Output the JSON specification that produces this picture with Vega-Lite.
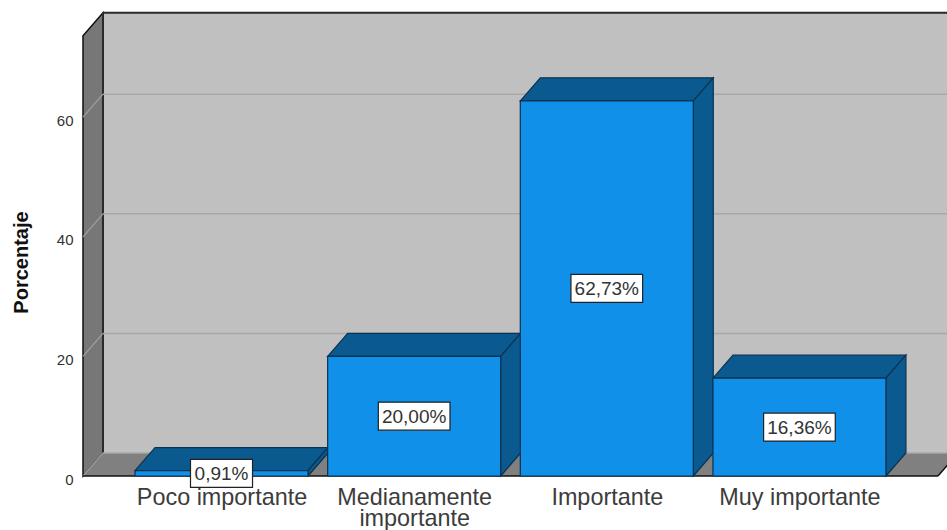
{
"$schema":"https://vega.github.io/schema/vega-lite/v6.json",
"autosize":{"type":"none"},
"padding":{"left":83,"top":0,"right":0,"bottom":54},
"width":864,"height":476,
"background":"white",
"config":{"view":{"stroke":null},"font":"Liberation Sans"},
"datasets":{
 "barras":[
  {"categoria":"Poco importante","pos":1,"porcentaje":0.91,"etiqueta":"0,91%"},
  {"categoria":"Medianamente importante","pos":2,"porcentaje":20.0,"etiqueta":"20,00%"},
  {"categoria":"Importante","pos":3,"porcentaje":62.73,"etiqueta":"62,73%"},
  {"categoria":"Muy importante","pos":4,"porcentaje":16.36,"etiqueta":"16,36%"}
 ],
 "rejilla":[{"v":0},{"v":20},{"v":40},{"v":60}],
 "pared":[{"t":0},{"t":1}],
 "marco":[{"xi":0.3848,"xd":4.9,"xf":0.281,"xe":4.719,"xg":4.8228,"base":3.85,"techo":77.45,"suelo":0}]
},
"layer":[
 {"data":{"name":"barras"},"mark":{"type":"rule","opacity":0},
  "encoding":{
   "x":{"field":"pos","type":"quantitative","scale":{"domain":[0.281,4.766],"nice":false,"zero":false},
    "axis":{"title":null,"grid":false,"domain":false,"ticks":false,"values":[1,2,3,4],"labelFontSize":23.4,"labelColor":"#3c3c3c","labelPadding":10,"labelLineHeight":21,"labelFlush":false,"labelOverlap":false,"labelBaseline":"top",
     "labelExpr":"datum.value==1?'Poco importante':datum.value==2?['Medianamente','importante']:datum.value==3?'Importante':'Muy importante'"}},
   "y":{"field":"porcentaje","type":"quantitative","scale":{"domain":[0,79.6],"nice":false,"zero":false},
    "axis":{"title":"Porcentaje","titleFontSize":20,"titleFontWeight":"bold","titleColor":"#111111","titleX":-52,"titleY":262,"grid":false,"domain":false,"ticks":false,"values":[0,20,40,60],"labelFontSize":15,"labelColor":"#333333","labelPadding":10,"labelOffset":3}}
  }},
 {"data":{"name":"pared"},"transform":[
   {"calculate":"0.281+datum.t*0.1038","as":"xw"},
   {"calculate":"datum.t*3.85","as":"yb"},
   {"calculate":"73.6+datum.t*3.85","as":"yt"}],
  "mark":{"type":"area","orient":"vertical","fill":"#777777","stroke":"#111111","strokeWidth":1.5},
  "encoding":{"x":{"field":"xw","type":"quantitative"},"y":{"field":"yb","type":"quantitative"},"y2":{"field":"yt"}}},
 {"data":{"name":"pared"},"transform":[
   {"calculate":"0.281+datum.t*0.1038","as":"xa"},
   {"calculate":"4.719+datum.t*0.1038","as":"xb"},
   {"calculate":"datum.t*3.85","as":"yf"}],
  "mark":{"type":"area","orient":"horizontal","fill":"#808080"},
  "encoding":{"y":{"field":"yf","type":"quantitative"},"x":{"field":"xa","type":"quantitative"},"x2":{"field":"xb"}}},
 {"data":{"name":"marco"},"mark":{"type":"rect","fill":"#c0c0c0"},
  "encoding":{"x":{"field":"xi","type":"quantitative"},"x2":{"field":"xd"},"y":{"field":"base","type":"quantitative"},"y2":{"field":"techo"}}},
 {"data":{"name":"marco"},"mark":{"type":"rule","stroke":"#2a2a2a","strokeWidth":2},
  "encoding":{"x":{"field":"xi","type":"quantitative"},"y":{"field":"base","type":"quantitative"},"y2":{"field":"techo"}}},
 {"data":{"name":"marco"},"mark":{"type":"rule","stroke":"#2a2a2a","strokeWidth":2},
  "encoding":{"x":{"field":"xi","type":"quantitative"},"x2":{"field":"xd"},"y":{"field":"techo","type":"quantitative"}}},
 {"data":{"name":"rejilla"},"transform":[{"calculate":"datum.v+3.85","as":"vb"},{"calculate":"0.3848","as":"xa"},{"calculate":"4.9","as":"xb"}],
  "mark":{"type":"rule","stroke":"#a8a8a8","strokeWidth":1.5},
  "encoding":{"x":{"field":"xa","type":"quantitative"},"x2":{"field":"xb"},"y":{"field":"vb","type":"quantitative"}}},
 {"data":{"name":"rejilla"},"transform":[{"calculate":"datum.v+3.85","as":"vb"},{"calculate":"0.281","as":"xa"},{"calculate":"0.3848","as":"xb"}],
  "mark":{"type":"rule","stroke":"#a0a0a0","strokeWidth":1.2},
  "encoding":{"x":{"field":"xa","type":"quantitative"},"x2":{"field":"xb"},"y":{"field":"v","type":"quantitative"},"y2":{"field":"vb"}}},
 {"data":{"name":"marco"},"mark":{"type":"rule","stroke":"#111111","strokeWidth":1.5},
  "encoding":{"x":{"field":"xf","type":"quantitative"},"x2":{"field":"xe"},"y":{"field":"suelo","type":"quantitative"}}},
 {"data":{"name":"marco"},"mark":{"type":"rule","stroke":"#111111","strokeWidth":1.5},
  "encoding":{"x":{"field":"xe","type":"quantitative"},"x2":{"field":"xg"},"y":{"field":"suelo","type":"quantitative"},"y2":{"field":"base"}}},
 {"data":{"name":"barras"},"transform":[
   {"calculate":"[0,1]","as":"t"},{"flatten":["t"]},
   {"calculate":"datum.pos-0.449+datum.t*0.1038","as":"xa"},
   {"calculate":"datum.pos+0.449+datum.t*0.1038","as":"xb"},
   {"calculate":"datum.porcentaje+datum.t*3.85","as":"yt"}],
  "mark":{"type":"area","orient":"horizontal","fill":"#0a5a90","stroke":"#0b3350","strokeWidth":1.2},
  "encoding":{"detail":{"field":"categoria"},"y":{"field":"yt","type":"quantitative"},"x":{"field":"xa","type":"quantitative"},"x2":{"field":"xb"}}},
 {"data":{"name":"barras"},"transform":[
   {"calculate":"[0,1]","as":"t"},{"flatten":["t"]},
   {"calculate":"datum.pos+0.449+datum.t*0.1038","as":"xs"},
   {"calculate":"datum.t*3.85","as":"yb"},
   {"calculate":"datum.porcentaje+datum.t*3.85","as":"yt"}],
  "mark":{"type":"area","orient":"vertical","fill":"#0a5a90","stroke":"#0b3350","strokeWidth":1.2},
  "encoding":{"detail":{"field":"categoria"},"x":{"field":"xs","type":"quantitative"},"y":{"field":"yb","type":"quantitative"},"y2":{"field":"yt"}}},
 {"data":{"name":"barras"},"transform":[
   {"calculate":"datum.pos-0.449","as":"xa"},
   {"calculate":"datum.pos+0.449","as":"xb"},
   {"calculate":"0","as":"cero"}],
  "mark":{"type":"rect","fill":"#1190ea","stroke":"#0b3350","strokeWidth":1.2},
  "encoding":{"x":{"field":"xa","type":"quantitative"},"x2":{"field":"xb"},"y":{"field":"porcentaje","type":"quantitative"},"y2":{"field":"cero"}}},
 {"data":{"name":"barras"},"transform":[
   {"calculate":"datum.porcentaje/2","as":"medio"},
   {"calculate":"length(datum.etiqueta)==5?0.161:0.186","as":"semi"},
   {"calculate":"datum.pos-datum.semi","as":"xa"},
   {"calculate":"datum.pos+datum.semi","as":"xb"}],
  "mark":{"type":"rect","fill":"white","stroke":"#222222","strokeWidth":1.2,"height":28},
  "encoding":{"x":{"field":"xa","type":"quantitative"},"x2":{"field":"xb"},"y":{"field":"medio","type":"quantitative"}}},
 {"data":{"name":"barras"},"transform":[{"calculate":"datum.porcentaje/2","as":"medio"}],
  "mark":{"type":"text","fontSize":19,"color":"#333333","align":"center","baseline":"middle","dy":1},
  "encoding":{"x":{"field":"pos","type":"quantitative"},"y":{"field":"medio","type":"quantitative"},"text":{"field":"etiqueta"}}}
]
}
